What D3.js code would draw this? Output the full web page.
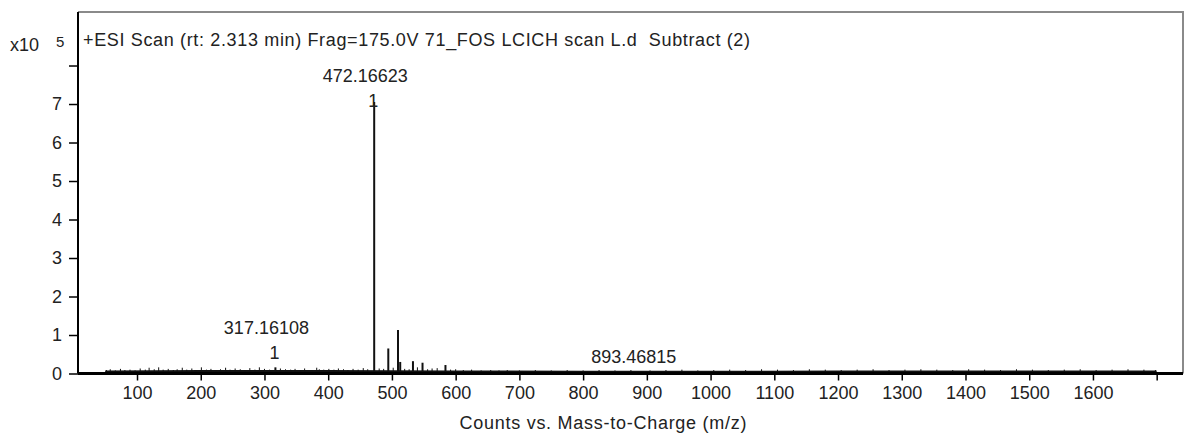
<!DOCTYPE html>
<html>
<head>
<meta charset="utf-8">
<script src="https://cdn.jsdelivr.net/npm/d3@7"></script>
<style>
  body { margin: 0; background: #fff; }
  svg { display: block; font-family: "Liberation Sans", Arial, sans-serif; }
  text { fill: #222; white-space: pre; }
</style>
</head>
<body>
<svg id="chart"></svg>
<script>
// spectrum data, intensities in units of 10^5 counts
var peakMz = [317.16108, 374, 472.16623, 494.3, 509.5, 513, 533, 548, 584, 893.46815];
var peakInt = [0.16, 0.09, 7.05, 0.65, 1.13, 0.3, 0.32, 0.28, 0.22, 0.06];

// low-level noise sticks
var noiseMz = [52, 58, 66, 74, 81, 89, 97, 105, 113, 119, 127, 134, 141, 149, 157, 163,
  171, 178, 186, 193, 201, 209, 216, 224, 231, 239, 246, 254, 262, 269, 277, 285, 292,
  300, 308, 325, 333, 341, 348, 356, 363, 382, 386, 393, 401, 409, 416, 424, 431, 439,
  447, 455, 462, 480, 487, 502, 520, 527, 540, 556, 563, 571, 592, 600, 612, 625, 640,
  655, 668, 681, 700, 725, 750, 775, 800, 825, 850, 875, 905, 930, 955, 980, 1005,
  1030, 1055, 1080, 1105, 1130, 1155, 1180, 1205, 1230, 1255, 1280, 1305, 1330, 1355,
  1380, 1405, 1430, 1455, 1480, 1505, 1530, 1555, 1580, 1605, 1630, 1655, 1680, 1698];
var noiseInt = [0.09, 0.11, 0.08, 0.12, 0.09, 0.10, 0.08, 0.13, 0.10, 0.15, 0.11, 0.16, 0.10, 0.12, 0.09, 0.11,
  0.15, 0.10, 0.13, 0.09, 0.16, 0.10, 0.12, 0.09, 0.11, 0.15, 0.10, 0.13, 0.11, 0.09, 0.14, 0.10, 0.16,
  0.12, 0.10, 0.13, 0.11, 0.10, 0.12, 0.09, 0.13, 0.15, 0.11, 0.10, 0.12, 0.10, 0.13, 0.11, 0.09, 0.12,
  0.10, 0.14, 0.11, 0.13, 0.12, 0.15, 0.12, 0.11, 0.16, 0.11, 0.13, 0.14, 0.10, 0.11, 0.09, 0.10, 0.08,
  0.09, 0.08, 0.09, 0.08, 0.09, 0.08, 0.09, 0.08, 0.09, 0.08, 0.09, 0.08, 0.09, 0.10, 0.08, 0.09,
  0.10, 0.09, 0.11, 0.10, 0.09, 0.11, 0.10, 0.09, 0.10, 0.11, 0.09, 0.10, 0.11, 0.10,
  0.09, 0.11, 0.10, 0.09, 0.11, 0.10, 0.09, 0.10, 0.11, 0.09, 0.10, 0.11, 0.10, 0.09];

// baseline band
var baseMz = [50, 200, 400, 600, 800, 1000, 1200, 1400, 1600, 1700];
var baseInt = [0.08, 0.09, 0.09, 0.08, 0.07, 0.07, 0.08, 0.08, 0.08, 0.08];

var labelMz = [472.16623, 317.16108, 893.46815];
var labelText = ["472.16623", "317.16108", "893.46815"];
var labelCharge = ["1", "1", ""];

var xTicks = [100, 200, 300, 400, 500, 600, 700, 800, 900, 1000, 1100, 1200, 1300, 1400, 1500, 1600, 1700];
var yTicks = [0, 1, 2, 3, 4, 5, 6, 7, 8];

var title = "+ESI Scan (rt: 2.313 min) Frag=175.0V 71_FOS LCICH scan L.d  Subtract (2)";
var xTitle = "Counts vs. Mass-to-Charge (m/z)";

var W = 1184, H = 439;
var mLeft = 78, mRight = 1183, mTop = 12, mBottom = 373.5;
var fs = 18;

var svg = d3.select("#chart").attr("width", W).attr("height", H);

var x = d3.scaleLinear().domain([7.4, 1741.3]).range([mLeft, mRight]);
var y = d3.scaleLinear().domain([0, 9.39]).range([mBottom, mTop]);

// frame: grey top/right
svg.append("path")
  .attr("d", "M" + mLeft + "," + mTop + "H" + mRight + "V" + mBottom)
  .attr("fill", "none").attr("stroke", "#8a8a8a").attr("stroke-width", 2);

// baseline band
svg.append("path")
  .datum(d3.range(baseMz.length))
  .attr("fill", "#111")
  .attr("d", d3.area()
    .x(function(i) { return x(baseMz[i]); })
    .y0(y(0))
    .y1(function(i) { return y(baseInt[i]); }));

// noise sticks
svg.append("g").selectAll("line")
  .data(d3.range(noiseMz.length))
  .enter().append("line")
  .attr("x1", function(i) { return x(noiseMz[i]); })
  .attr("x2", function(i) { return x(noiseMz[i]); })
  .attr("y1", y(0))
  .attr("y2", function(i) { return y(noiseInt[i]); })
  .attr("stroke", "#111").attr("stroke-width", 1);

// main peaks
svg.append("g").selectAll("line")
  .data(d3.range(peakMz.length))
  .enter().append("line")
  .attr("x1", function(i) { return x(peakMz[i]); })
  .attr("x2", function(i) { return x(peakMz[i]); })
  .attr("y1", y(0))
  .attr("y2", function(i) { return y(peakInt[i]); })
  .attr("stroke", "#111").attr("stroke-width", 2);

// axes
var xAxis = d3.axisBottom(x).tickValues(xTicks).tickSize(7).tickPadding(6)
  .tickFormat(function(d) { return d === 1700 ? "" : d; });
var gx = svg.append("g").attr("transform", "translate(0," + mBottom + ")").call(xAxis);
gx.select(".domain").attr("stroke", "#000").attr("stroke-width", 3)
  .attr("d", "M" + mLeft + ",0H" + mRight);
gx.selectAll(".tick line").attr("stroke", "#000").attr("stroke-width", 1.5);
gx.selectAll("text").attr("font-size", fs).attr("fill", "#222")
  .attr("font-family", "Liberation Sans, Arial, sans-serif");

var yAxis = d3.axisLeft(y).tickValues(yTicks).tickSize(9).tickPadding(7)
  .tickFormat(function(d) { return d === 8 ? "" : d; });
var gy = svg.append("g").attr("transform", "translate(" + mLeft + ",0)").call(yAxis);
gy.select(".domain").attr("stroke", "#000").attr("stroke-width", 2)
  .attr("d", "M0," + mTop + "V" + mBottom);
gy.selectAll(".tick line").attr("stroke", "#000").attr("stroke-width", 1.5);
gy.selectAll("text").attr("font-size", fs).attr("fill", "#222")
  .attr("font-family", "Liberation Sans, Arial, sans-serif");

// exponent
svg.append("text").attr("x", 10).attr("y", 51).attr("font-size", fs).text("x10");
svg.append("text").attr("x", 56).attr("y", 47).attr("font-size", 15).text("5");

// title and x label
svg.append("text").attr("x", 83).attr("y", 46).attr("font-size", fs)
  .attr("textLength", 667).attr("lengthAdjust", "spacing").text(title);
svg.append("text").attr("x", 603).attr("y", 429).attr("text-anchor", "middle")
  .attr("font-size", fs).attr("textLength", 287).attr("lengthAdjust", "spacing").text(xTitle);

// peak annotations
labelMz.forEach(function(m, k) {
  var v = peakInt[peakMz.indexOf(m)];
  var py = y(v);
  var chargeY = v > 1 ? py + 5 : py - 8;
  var textY = labelCharge[k] ? chargeY - 25 : py - 8;
  svg.append("text").attr("x", x(m) - 9).attr("y", textY)
    .attr("text-anchor", "middle").attr("font-size", fs).text(labelText[k]);
  if (labelCharge[k]) {
    svg.append("text").attr("x", x(m) - 1).attr("y", chargeY)
      .attr("text-anchor", "middle").attr("font-size", fs).text(labelCharge[k]);
  }
});
</script>
</body>
</html>
